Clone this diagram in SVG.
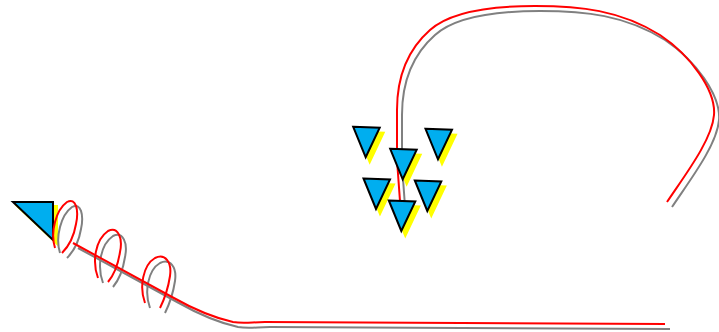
<svg xmlns="http://www.w3.org/2000/svg" xmlns:xlink="http://www.w3.org/1999/xlink" width="719" height="332" viewBox="0 0 719 332">
<style>
.tri{fill:#00AEEF;stroke:#000;stroke-width:2;stroke-linejoin:miter}
.sh{fill:#FFFF00;stroke:#FFFF00;stroke-width:2}
.red{fill:none;stroke:#FF0000;stroke-width:2;stroke-linecap:butt}
.gray{fill:none;stroke:#808080;stroke-width:2;stroke-linecap:butt}
</style>
<defs>
<g id="tip">
<polygon class="sh" points="-8.5,-25.5 18,-24.5 4,5"/>
<polygon class="tri" points="-12.5,-30.5 14,-29.5 0,0"/>
</g>
<path id="pTop" d="M667,202 C685,175 712,140 714,115 C716,90 690,55 660,35 C620,10 580,6 535,6 C490,6 450,12 430,30 C405,52 397,80 397,110 L397,160 L401,215"/>
<path id="pBottom" d="M73,243 L172,297 C195,310 215,318 233,322 C244,324 252,322 265,322 L665,324"/>
<path id="pCoil" d="M55,248 C50,232 56,210 67,202 C76,197 79,210 76,224 C74,236 68,247 62,253 M98,278 C92,262 95,240 108,231 C118,226 123,238 120,252 C118,265 113,276 108,282 M145,303 C139,287 143,265 155,258 C165,253 172,262 170,276 C168,289 164,300 160,308"/>
</defs>
<g id="startArrow">
<polygon class="sh" points="17,206 57,206 57,244"/>
<polygon class="tri" points="13,202 53,202 53,240"/>
</g>
<g id="connectors">
<g transform="translate(5,5)">
<use xlink:href="#pTop" class="gray"/>
<use xlink:href="#pBottom" class="gray"/>
<use xlink:href="#pCoil" class="gray"/>
</g>
<use xlink:href="#pTop" class="red"/>
<use xlink:href="#pBottom" class="red"/>
<use xlink:href="#pCoil" class="red"/>
</g>
<g id="tip1"><use xlink:href="#tip" transform="translate(365.7,157.3)"/></g>
<g id="tip3"><use xlink:href="#tip" transform="translate(438,159.3)"/></g>
<g id="tip2"><use xlink:href="#tip" transform="translate(402.7,179.3)"/></g>
<g id="tip4"><use xlink:href="#tip" transform="translate(376,209)"/></g>
<g id="tip5"><use xlink:href="#tip" transform="translate(427.3,211)"/></g>
<g id="tip6"><use xlink:href="#tip" transform="translate(401.3,231)"/></g>
</svg>
